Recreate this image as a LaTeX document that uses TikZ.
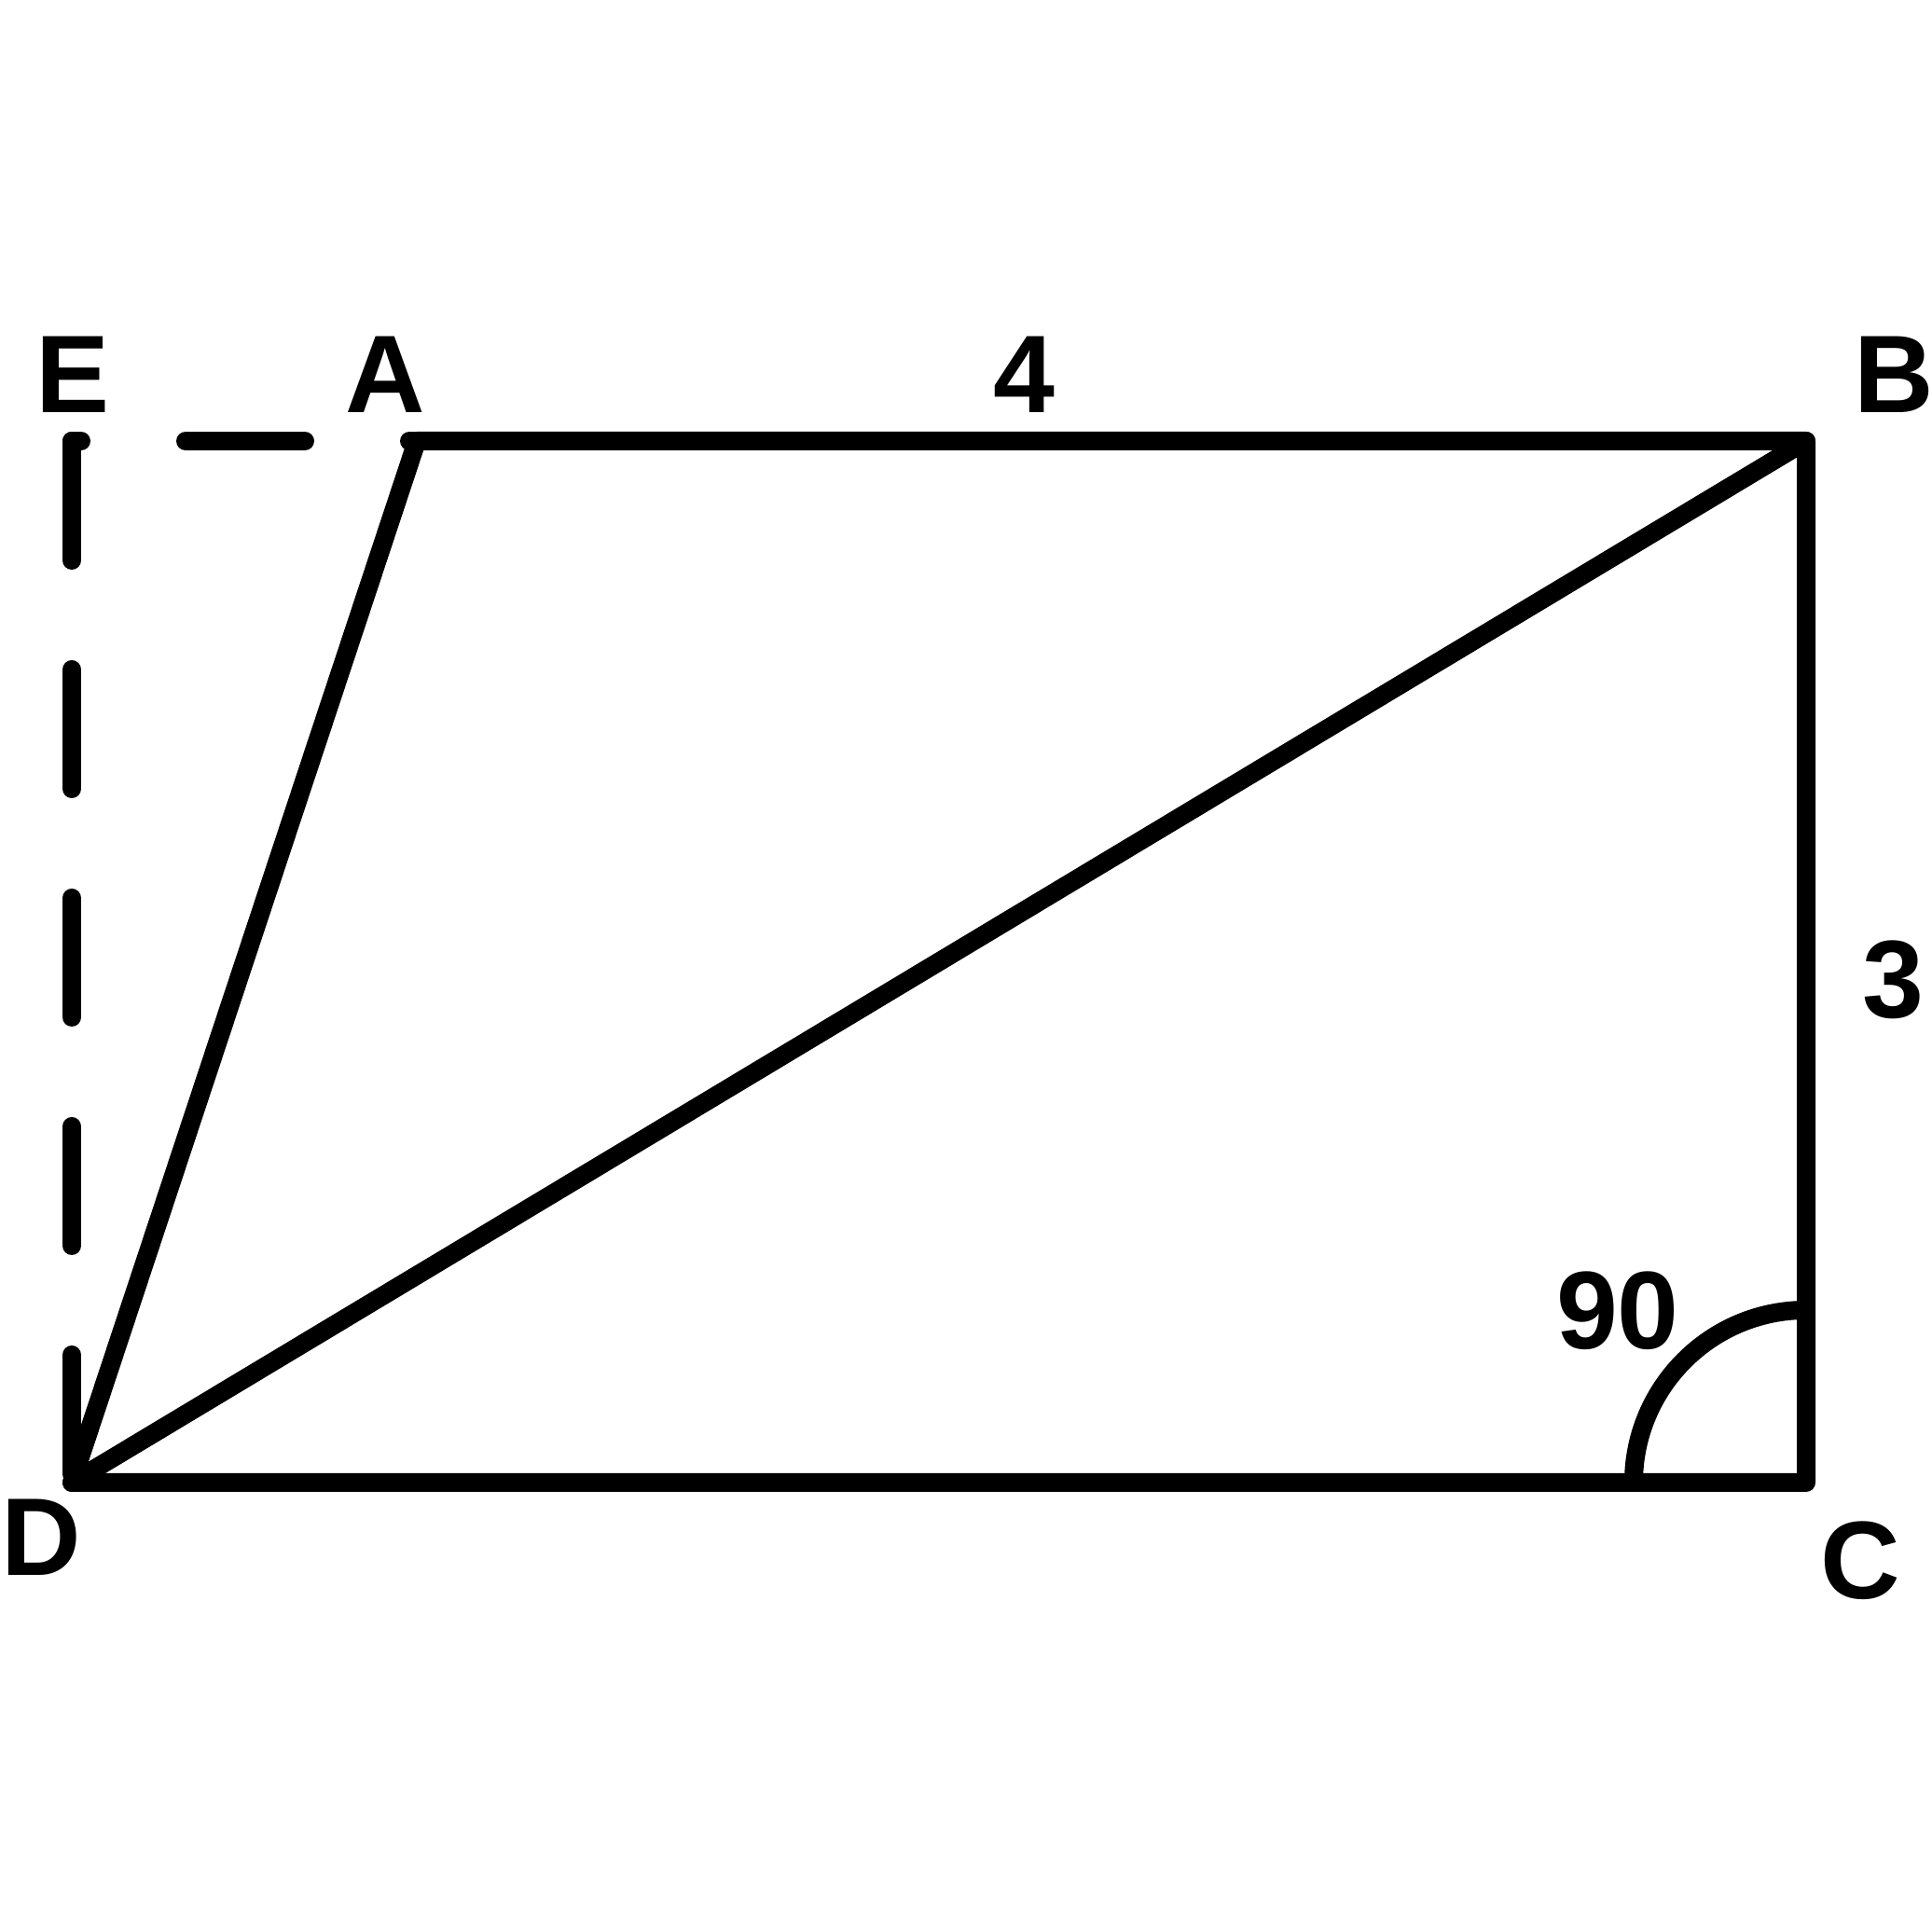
\documentclass[tikz,border=0pt]{standalone}
\usepackage{fontspec}
\setmainfont{Liberation Sans}
\begin{document}
\begin{tikzpicture}[
		edge/.style={line width=0.2cm, line cap=round, line join=round},
		dashedge/.style={edge, dash pattern=on 1.28cm off 1.17cm},
		lbl/.style={anchor=base, inner sep=0pt, font={\fontsize{33.7}{40}\selectfont\bfseries}}
	]
		\useasboundingbox (0,0) rectangle (20.72,20.72);
		\pgfmathsetmacro{\yTop}{15.99};
		\pgfmathsetmacro{\yBot}{4.82};
		\pgfmathsetmacro{\rArc}{1.85};
		% vertices
		\coordinate (E) at (0.77,\yTop);
		\coordinate (A) at (4.47,\yTop);
		\coordinate (B) at (19.37,\yTop);
		\coordinate (C) at (19.37,\yBot);
		\coordinate (D) at (0.77,\yBot);
		% figure
		\draw[edge] (A) -- (B) -- (C) -- (D) -- cycle;
		\draw[edge] (B) -- (D);
		\draw[edge, dash pattern=on 1.28cm off 1.12cm, dash phase=1.18cm] (E) -- (A);
		\draw[dashedge] (E) -- (D);
		\draw[edge] ([xshift=-\rArc cm]C) arc (180:90:\rArc);
		% labels
		\node[lbl] (lE) at (0.775,16.29) {E};
		\node[lbl] (lA) at (4.13,16.29) {A};
		\node[lbl] (lB) at (20.31,16.29) {B};
		\node[lbl] (lD) at (0.44,3.82) {D};
		\node[lbl] (lC) at (19.95,3.57) {C};
		\node[lbl] (lAB) at (10.98,16.29) {4};
		\node[lbl] (lBC) at (20.30,9.80) {3};
		\node[lbl] (lang) at (17.35,6.25) {90};
	\end{tikzpicture}
\end{document}
